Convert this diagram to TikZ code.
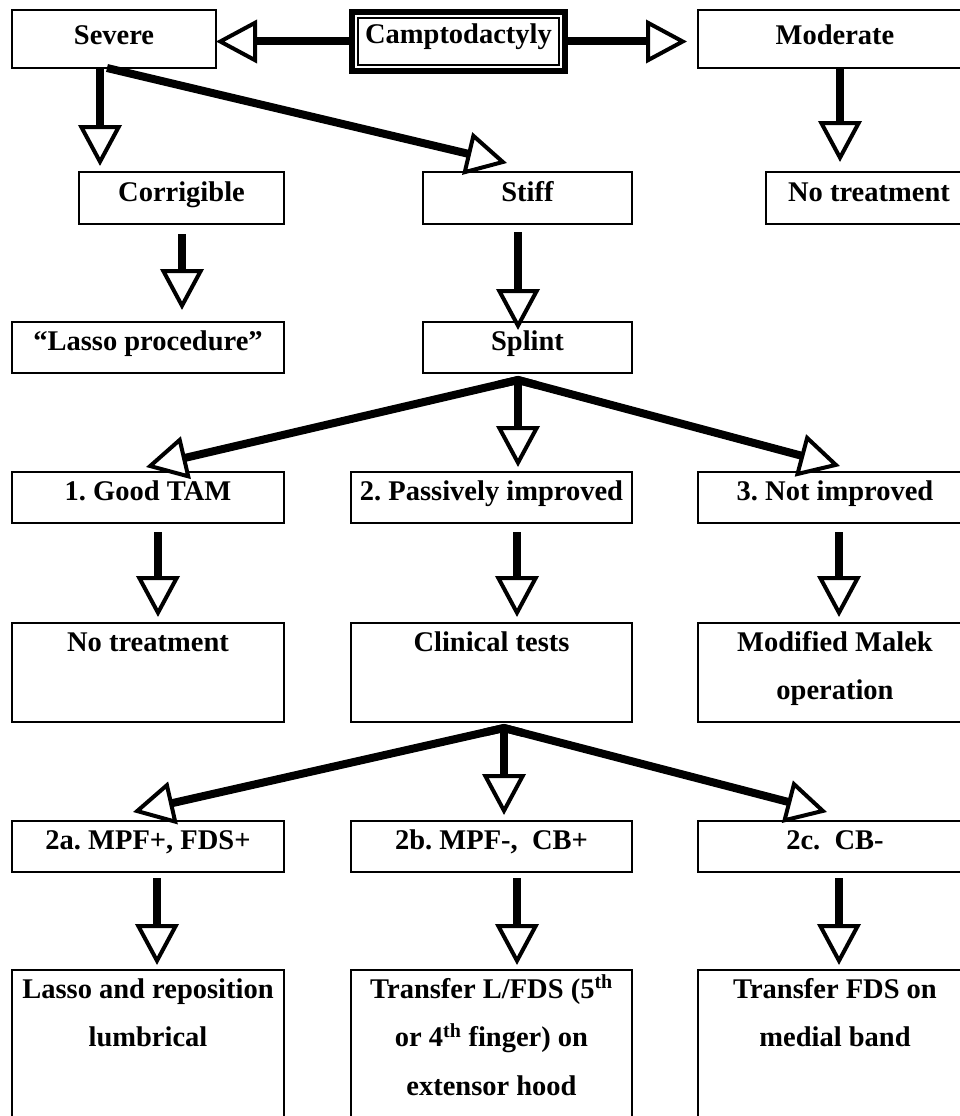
\documentclass[tikz,border=0pt]{standalone}
\usepackage{fontspec}
\setmainfont{Liberation Serif}
\usetikzlibrary{arrows.meta,calc}
\newcommand{\bxt}[4]{\parbox[c][#2][t]{#1}{\centering\rule{0pt}{#3}#4\par}}
\frenchspacing
\begin{document}
\begin{tikzpicture}[x=1pt,y=-1pt,
  box/.style={draw, line width=2.5pt, inner sep=0pt, outer sep=0pt, anchor=north west},
  every node/.style={font=\fontsize{28.5}{48.5}\selectfont\bfseries\frenchspacing},
  arr/.style={line width=8pt, -{Triangle[open, fill=white, length=41pt, width=43pt, line width=4pt]}},
  shaft/.style={line width=8pt, line join=miter}]
\useasboundingbox (0,0) rectangle (960,1116);
% row 0
\node[box] (sev) at (12,10) {\bxt{204pt}{58pt}{34pt}{Severe}};
\node[box, line width=6pt] (cam) at (352,12) {\bxt{213pt}{59pt}{32pt}{Camptodactyly}};
\draw[line width=1.2pt] ([shift={(6pt,-6pt)}]cam.north west) rectangle ([shift={(-6pt,6pt)}]cam.south east);
\node[box] (mod) at (698,10) {\bxt{274pt}{58pt}{34pt}{Moderate}};
% row 1
\node[box] (cor) at (79,172) {\bxt{205pt}{52pt}{29pt}{Corrigible}};
\node[box] (sti) at (423,172) {\bxt{209pt}{52pt}{29pt}{Stiff}};
\node[box] (nt1) at (766,172) {\bxt{206pt}{52pt}{29pt}{No treatment}};
% row 2
\node[box] (las) at (12,322) {\bxt{272pt}{51pt}{28pt}{“Lasso procedure”}};
\node[box] (spl) at (423,322) {\bxt{209pt}{51pt}{28pt}{Splint}};
% row 3
\node[box] (g1) at (12,472) {\bxt{272pt}{51pt}{28pt}{1. Good TAM}};
\node[box] (g2) at (351,472) {\bxt{281pt}{51pt}{28pt}{2. Passively improved}};
\node[box] (g3) at (698,472) {\bxt{274pt}{51pt}{28pt}{3. Not improved}};
% row 4
\node[box] (n1) at (12,623) {\bxt{272pt}{99pt}{28pt}{No treatment}};
\node[box] (n2) at (351,623) {\bxt{281pt}{99pt}{28pt}{Clinical tests}};
\node[box] (n3) at (698,623) {\bxt{274pt}{99pt}{28pt}{Modified Malek\\operation}};
% row 5
\node[box] (a1) at (12,821) {\bxt{272pt}{51pt}{28pt}{2a. MPF+, FDS+}};
\node[box] (a2) at (351,821) {\bxt{281pt}{51pt}{28pt}{2b. MPF-,\ \ CB+}};
\node[box] (a3) at (698,821) {\bxt{274pt}{51pt}{28pt}{2c.\ \ CB-}};
% row 6
\node[box] (b1) at (12,970) {\bxt{272pt}{160pt}{28pt}{Lasso and reposition\\lumbrical}};
\node[box] (b2) at (351,970) {\bxt{281pt}{160pt}{28pt}{Transfer L/FDS (5\textsuperscript{th}\\or 4\textsuperscript{th} finger) on\\extensor hood}};
\node[box] (b3) at (698,970) {\bxt{274pt}{160pt}{28pt}{Transfer FDS on\\medial band}};
% connectors, top
\draw[arr] (cam.west) -- (sev.east |- cam.west);
\draw[arr, shorten >=11pt] (cam.east) -- (mod.west |- cam.east);
\draw[arr] ([xshift=88pt]sev.south west) -- ([xshift=21pt,yshift=6pt]cor.north west);
\draw[arr] ([xshift=95pt]sev.south west) -- ([xshift=84pt,yshift=9pt]sti.north west);
\draw[arr] ([xshift=142pt]mod.south west) -- ([xshift=74pt,yshift=10pt]nt1.north west);
\draw[arr] ([xshift=103pt,yshift=-10pt]cor.south west) -- ([xshift=170pt,yshift=12pt]las.north west);
\draw[arr] ([xshift=95pt,yshift=-8pt]sti.south west) -- ([xshift=95pt,yshift=-8pt]spl.north west);
% split after splint
\coordinate (ap1) at ([xshift=95pt,yshift=-7pt]spl.south west);
\coordinate (s1l) at ([xshift=134pt,yshift=5pt]g1.north west);
\coordinate (s1m) at ([xshift=167pt,yshift=5pt]g2.north west);
\coordinate (s1r) at ([xshift=142pt,yshift=6pt]g3.north west);
\draw[shaft] ($(ap1)!20pt!(s1l)$) -- (ap1) -- ($(ap1)!20pt!(s1r)$);
\draw[arr] (ap1) -- (s1l);
\draw[arr] (ap1) -- (s1m);
\draw[arr] (ap1) -- (s1r);
% row 3 -> 4
\draw[arr] ([xshift=146pt,yshift=-9pt]g1.south west) -- ([xshift=146pt,yshift=6pt]n1.north west);
\draw[arr] ([xshift=166pt,yshift=-9pt]g2.south west) -- ([xshift=166pt,yshift=6pt]n2.north west);
\draw[arr] ([xshift=141pt,yshift=-9pt]g3.south west) -- ([xshift=141pt,yshift=6pt]n3.north west);
% split after clinical tests
\coordinate (ap2) at ([xshift=153pt,yshift=-6pt]n2.south west);
\coordinate (s2l) at ([xshift=121pt,yshift=9pt]a1.north west);
\coordinate (s2m) at ([xshift=153pt,yshift=6pt]a2.north west);
\coordinate (s2r) at ([xshift=129pt,yshift=9pt]a3.north west);
\draw[shaft] ($(ap2)!20pt!(s2l)$) -- (ap2) -- ($(ap2)!20pt!(s2r)$);
\draw[arr] (ap2) -- (s2l);
\draw[arr] (ap2) -- (s2m);
\draw[arr] (ap2) -- (s2r);
% row 5 -> 6
\draw[arr] ([xshift=145pt,yshift=-6pt]a1.south west) -- ([xshift=145pt,yshift=5pt]b1.north west);
\draw[arr] ([xshift=166pt,yshift=-6pt]a2.south west) -- ([xshift=166pt,yshift=5pt]b2.north west);
\draw[arr] ([xshift=141pt,yshift=-6pt]a3.south west) -- ([xshift=141pt,yshift=5pt]b3.north west);
\end{tikzpicture}
\end{document}
